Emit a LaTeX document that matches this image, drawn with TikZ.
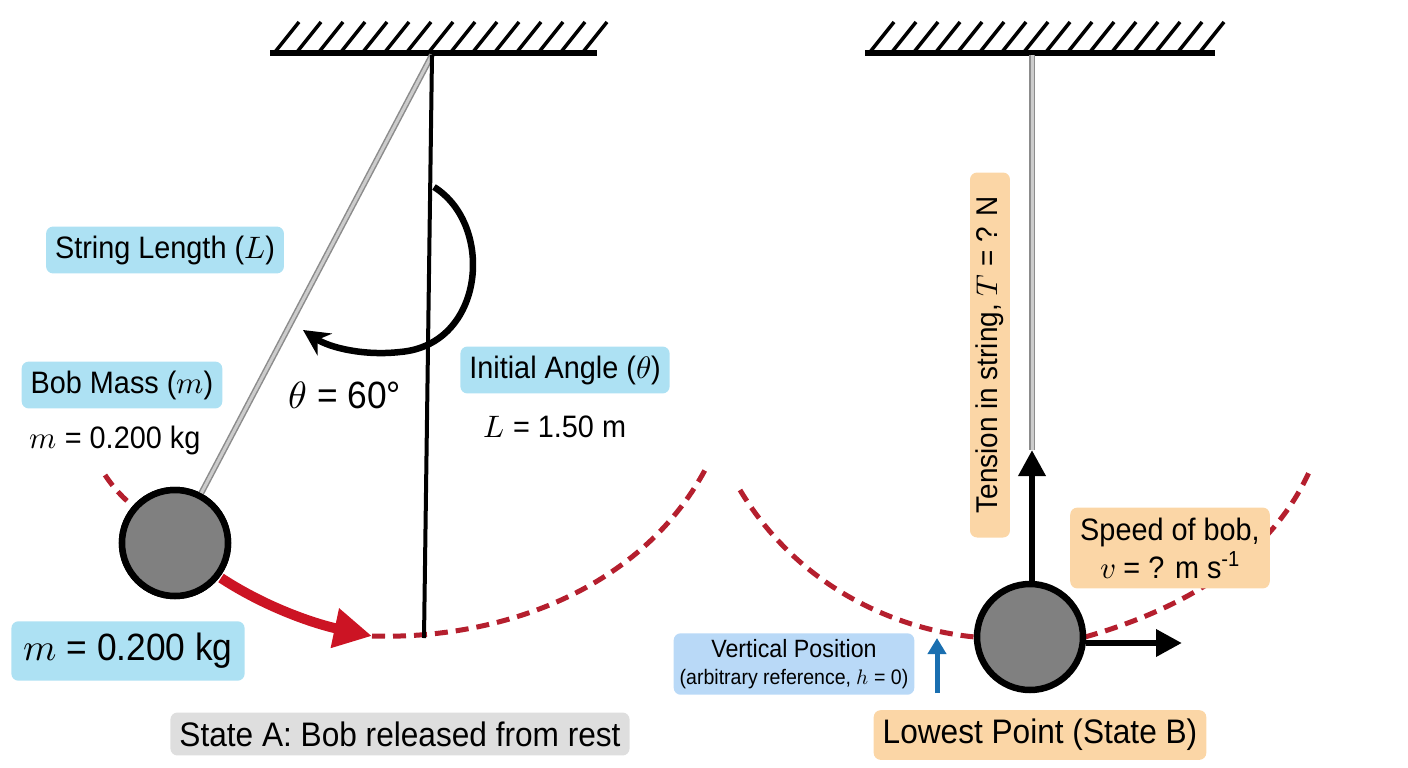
\documentclass[tikz,border=0pt]{standalone}
\usepackage{unicode-math}
\setmainfont{Liberation Sans}[FakeStretch=0.93]
\setmathfont{Latin Modern Math}
\usetikzlibrary{arrows.meta}
\definecolor{lblue}{HTML}{ADE1F3}
\definecolor{pblue}{HTML}{B9D9F7}
\definecolor{lorange}{HTML}{FBD6A6}
\definecolor{lgray}{HTML}{DEDEDE}
\definecolor{dred}{HTML}{B51F2E}
\definecolor{ared}{HTML}{CC1424}
\definecolor{harrow}{HTML}{1A6FB0}
\tikzset{
  box/.style={rounded corners=7pt, inner xsep=9pt, inner ysep=9pt, align=center},
  bobs/.style={circle, draw=black, line width=6.5pt, minimum size=106pt, inner sep=0pt, fill=black!50},
  arc/.style={dred, line width=5pt, dash pattern=on 13pt off 8pt},
  ceil/.style={line width=6pt},
  hatch/.style={line width=3.5pt},
  vec/.style={line width=6.5pt, -{Triangle[length=26pt,width=26pt]}},
}
\begin{document}
\begin{tikzpicture}[x=1pt,y=-1pt]
\useasboundingbox (0,0) rectangle (1408,768);
% ceilings
\draw[ceil] (270,53) -- (597,53);
\foreach \i in {0,...,14} \draw[hatch] (275+22*\i,52) -- (299+22*\i,22);
\draw[ceil] (865,53) -- (1215,53);
\foreach \i in {0,...,15} \draw[hatch] (870+22*\i,52) -- (894+22*\i,22);
\coordinate (pA) at (432,55);
\coordinate (pB) at (1032,55);
% state A
\draw[arc] (105,475) .. controls (115,490) and (125,500) .. (140,512);
\draw[arc] (372,636) .. controls (500,640) and (640,590) .. (705,470);
\node[bobs] (bobA) at (175,543) {};
\draw[black!45, line width=6pt] (pA) -- (bobA);
\draw[white!80!black, line width=3pt] (pA) -- (bobA);
\node[bobs] at (175,543) {};
\coordinate (lowA) at (424,638);
\draw[line width=4pt] (pA) -- (lowA);
\draw[ared, line width=10pt, -{Triangle[length=38pt,width=38pt]}] (221,578) .. controls (270,610) and (320,625) .. (372,636);
\draw[line width=6.5pt, -{Stealth[length=26pt,width=26pt]}] (434,187) .. controls (495,225) and (485,345) .. (400,352) .. controls (365,356) and (330,348) .. (303,330);
\node[box, fill=lblue, font=\fontsize{31}{34}\selectfont] (sl) at (165,250) {String Length ($L$)};
\node[box, fill=lblue, font=\fontsize{31}{34}\selectfont] (bm) at (122,385) {Bob Mass ($m$)};
\node[font=\fontsize{31}{34}\selectfont] (mv) at (115,440) {$m$ = 0.200 kg};
\node[font=\fontsize{38}{42}\selectfont] (th) at (345,395) {$\theta$ = 60°};
\node[box, fill=lblue, font=\fontsize{31}{34}\selectfont] (ia) at (565,370) {Initial Angle ($\theta$)};
\node[font=\fontsize{31}{34}\selectfont] (lv) at (555,427) {$L$ = 1.50 m};
\node[box, fill=lblue, inner sep=12pt, font=\fontsize{38}{42}\selectfont] (mb) at (128,651) {$m$ = 0.200 kg};
\node[box, fill=lgray, font=\fontsize{34}{38}\selectfont] (sa) at (400,734) {State A: Bob released from rest};
% state B
\draw[arc] (740,490) .. controls (800,590) and (900,630) .. (975,637);
\draw[arc] (1085,637) .. controls (1180,610) and (1270,560) .. (1310,470);
\coordinate (topT) at (1032,450);
\draw[black!45, line width=6pt] (pB) -- (topT);
\draw[white!80!black, line width=3pt] (pB) -- (topT);
\node[bobs] (bobB) at (1030,637) {};
\draw[vec] (bobB.north) ++(2,0) -- (topT);
\coordinate (vend) at (1182,643);
\draw[vec] (bobB.east) ++(0,6) -- (vend);
\node[box, fill=lorange, rotate=90, font=\fontsize{30}{34}\selectfont, inner sep=6pt, minimum width=365pt] (ten) at (990,355) {Tension in string, $T$ = ? N};
\node[box, fill=lorange, inner sep=10pt, font=\fontsize{31}{38}\selectfont] (sp) at (1170,548) {Speed of bob,\\ $v$ = ? m s\textsuperscript{-1}};
\node[box, fill=pblue, inner sep=6pt, font=\fontsize{25}{27}\selectfont] (vp) at (794,664) {Vertical Position\\{\fontsize{21}{25}\selectfont (arbitrary reference, $h$ = 0)}};
\coordinate (hb) at (937,693);
\coordinate (ht) at (937,638);
\draw[harrow, line width=5pt, -{Triangle[length=16pt,width=18pt]}] (hb) -- (ht);
\node[box, fill=lorange, font=\fontsize{34}{38}\selectfont, inner sep=9pt] (lp) at (1040,735) {Lowest Point (State B)};
\end{tikzpicture}
\end{document}
